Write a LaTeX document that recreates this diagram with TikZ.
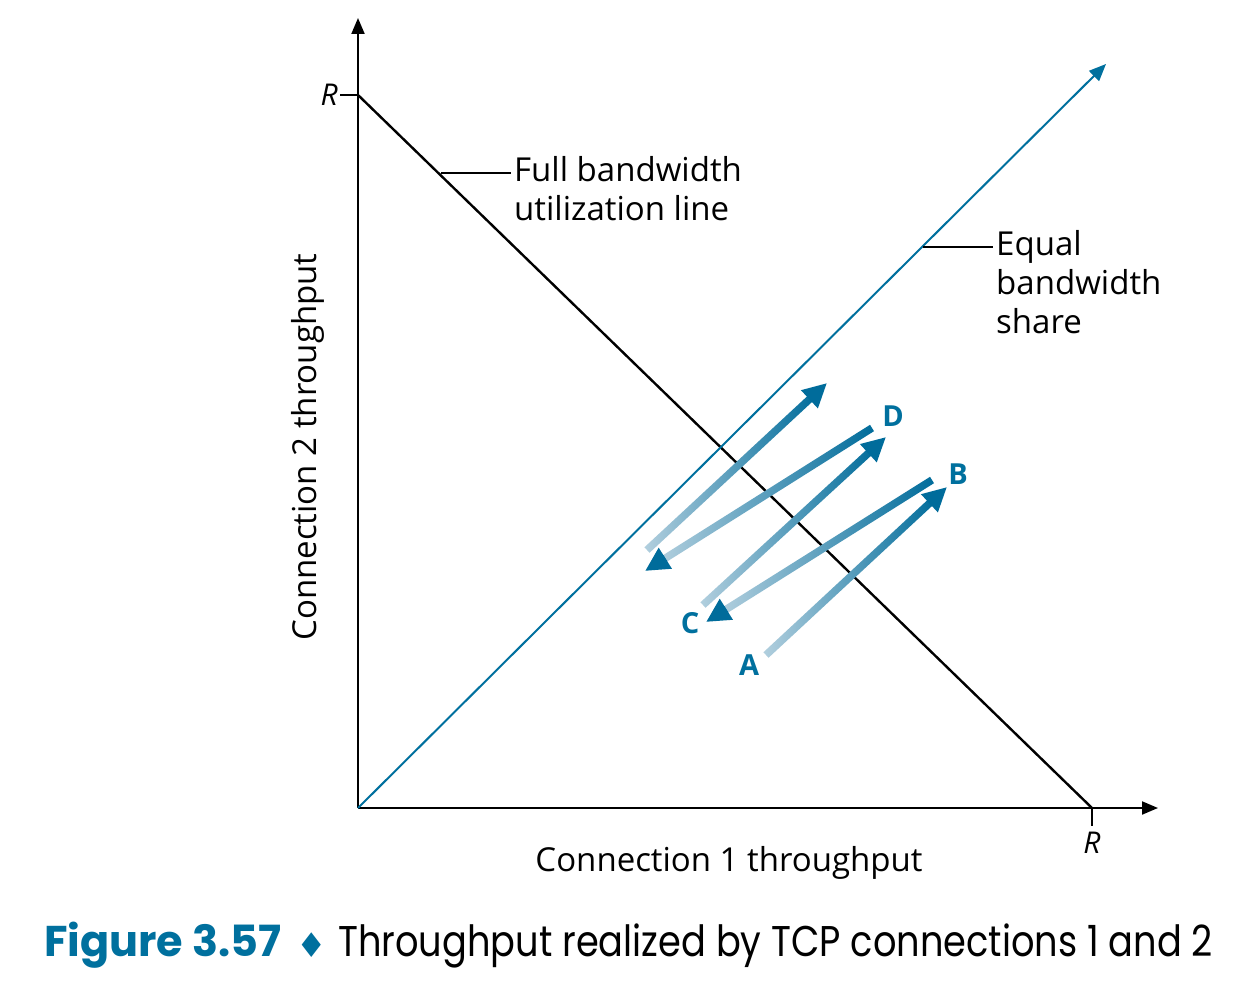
\documentclass[tikz,border=0pt]{standalone}
\usepackage{fontspec}
\setmainfont{Open Sans}
\newfontfamily\capfont[FakeStretch=0.855]{Poppins}
\newfontfamily\capbold{Poppins}
\newfontfamily\djv{DejaVu Sans}
\usetikzlibrary{arrows.meta,calc}
\definecolor{tblue}{RGB}{0,112,158}
\definecolor{tlight}{RGB}{178,207,222}
\definecolor{tdark}{RGB}{0,108,155}
\newcommand\gradarrow[2]{%
  \path let \p1=($(#2)-(#1)$), \n1={atan2(\y1,\x1)}, \n2={veclen(\x1,\y1)} in
    node[shadebar, minimum width=\n2-18, rotate=\n1, anchor=west] at (#1) {};
  \draw[headarrow] ($(#2)!24pt!(#1)$) -- (#2);
}
\begin{document}
\begin{tikzpicture}[x=1pt,y=-1pt,
  axis/.style={line width=2pt, black, -{Triangle[length=16pt,width=13pt]}},
  shadebar/.style={inner sep=0pt, outer sep=0pt, minimum height=7.5pt, left color=tlight, right color=tdark, draw=none},
  headarrow/.style={draw=tdark, line width=7.5pt, -{Triangle[length=24pt,width=23pt]}},
  txt/.style={font=\fontsize{33}{39}\selectfont, align=left, inner sep=0pt},
  lbl/.style={font=\fontsize{29}{34}\selectfont\bfseries, text=tblue, inner sep=0pt},
  rlbl/.style={font=\fontsize{30}{36}\selectfont\itshape, inner sep=0pt}]
\useasboundingbox[fill=white] (0,0) rectangle (1236,1000);
% axes
\coordinate (O) at (358,808);
\coordinate (Ytop) at (358,18);
\coordinate (Xend) at (1158,808);
\coordinate (RY) at (358,95);
\coordinate (RX) at (1092,808);
\coordinate (RYt) at (340,95);
\coordinate (RXt) at (1092,826);
\coordinate (EqEnd) at (1106,64);
\draw[axis] (O) -- (Ytop);
\draw[axis] (O) -- (Xend);
\draw[line width=1.5pt] (RYt) -- (RY);
\draw[line width=1.5pt] (RX) -- (RXt);
\node[rlbl, anchor=east] (Ry) at (338,95) {R};
\node[rlbl, anchor=north] (Rx) at (1092,832) {R};
% full bandwidth line
\draw[line width=2.4pt, black] (RY) -- (RX);
% equal share line
\draw[line width=2pt, tblue, -{Triangle[length=17pt,width=14pt]}] (O) -- (EqEnd);
% leaders
\coordinate (L1a) at (441,173);
\coordinate (L1b) at (511,173);
\coordinate (L2a) at (923,247);
\coordinate (L2b) at (993,247);
\draw[line width=1.2pt] (L1a) -- (L1b);
\draw[line width=1.2pt] (L2a) -- (L2b);
\node[txt, anchor=base west] (full) at (514,221) {Full bandwidth\\utilization line};
\node[txt, anchor=base west] (equal) at (996,333) {Equal\\bandwidth\\share};
% axis labels
\node[txt, anchor=base, rotate=90] (ylab) at (316,447) {Connection 2 throughput};
\node[txt, anchor=base] (xlab) at (729,871) {Connection 1 throughput};
% arrows
\coordinate (A0) at (766,655); \coordinate (B1) at (947,487);
\coordinate (B0) at (932,480); \coordinate (C1) at (706,622);
\coordinate (C0) at (703,605); \coordinate (D1) at (886,437);
\coordinate (D0) at (872,428); \coordinate (E1) at (645,571);
\coordinate (E0) at (647,550); \coordinate (F1) at (827,383);
\gradarrow{A0}{B1}
\gradarrow{B0}{C1}
\gradarrow{C0}{D1}
\gradarrow{D0}{E1}
\gradarrow{E0}{F1}
\node[lbl] (A) at (749,665) {A};
\node[lbl] (B) at (958,474) {B};
\node[lbl] (C) at (690,623) {C};
\node[lbl] (D) at (893,416) {D};
% caption
\node[anchor=base west, inner sep=0pt, text=tblue, font=\capbold\fontsize{43}{46}\selectfont\bfseries] (fig) at (44,956) {Figure 3.57};
\node[inner sep=0pt, text=tblue, font=\djv\fontsize{34}{36}\selectfont] (dia) at (312,945) {♦};
\node[anchor=base west, inner sep=0pt, font=\capfont\fontsize{43}{46}\selectfont] (cap) at (338,956)
  {Throughput realized by TCP connections 1 and 2};
\end{tikzpicture}
\end{document}
